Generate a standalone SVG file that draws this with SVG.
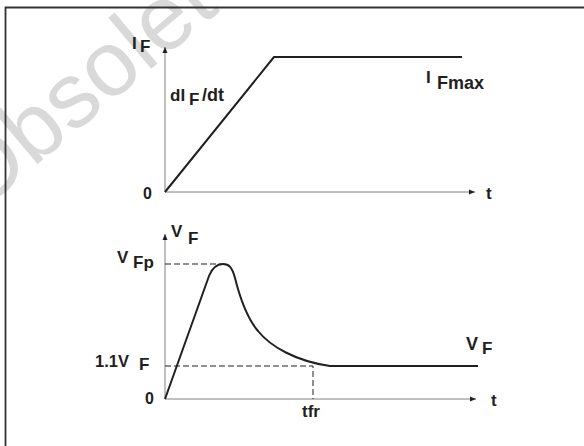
<svg xmlns="http://www.w3.org/2000/svg" width="584" height="446" viewBox="0 0 584 446">
<style>
.lbl{font-family:"Liberation Sans",Arial,sans-serif;font-weight:bold;font-size:17px;fill:#231f20}
.axis{stroke:#808080;stroke-width:1;fill:none}
.curve{stroke:#231f20;stroke-width:2;fill:none;stroke-linejoin:round}
.dash{stroke:#231f20;stroke-width:1;fill:none;stroke-dasharray:6,3}
.wm{font-family:"Liberation Sans",Arial,sans-serif;font-size:92px;fill:#d9d9d9}
</style>
<defs>
<marker id="ah" viewBox="0 0 6 6" refX="6" refY="3" markerWidth="6" markerHeight="6" markerUnits="userSpaceOnUse" orient="auto">
<path d="M0,0.5 L6,3 L0,5.5 Z" fill="#231f20"/>
</marker>
</defs>
<rect width="584" height="446" fill="#ffffff"/>
<text class="wm" transform="translate(-22,214) rotate(-40)">Obsolete</text>
<path d="M5.5,446 L5.5,7.5 L584,7.5" stroke="#333333" stroke-width="1.8" fill="none"/>
<g id="connectors">
<path class="axis" d="M165,192 L165,47" marker-end="url(#ah)"/>
<path class="axis" d="M165,192 L475,192" marker-end="url(#ah)"/>
<path class="axis" d="M165,399 L165,234" marker-end="url(#ah)"/>
<path class="axis" d="M165,399 L476,399" marker-end="url(#ah)"/>
<path class="dash" d="M165,264 L222,264"/>
<path class="dash" d="M165,366 L313,366 L313,399"/>
</g>
<g id="if-curve">
<path class="curve" d="M165,192 L274,57 L462,57"/>
</g>
<g id="vf-curve">
<path class="curve" d="M165,399 L209,276 C213,266 218,264 223,264 C229,264 232,267 235,278 C240,298 247,318 258,331 C270,346 295,361 330,366 L478,366"/>
</g>
<g id="labels-top">
<text class="lbl" x="132" y="49">I</text>
<text class="lbl" x="140" y="51.5">F</text>
<text class="lbl" x="143" y="199" style="font-size:16px">0</text>
<text class="lbl" x="486" y="199">t</text>
<text class="lbl" x="170" y="101">dI</text>
<text class="lbl" x="189" y="104.5">F</text>
<text class="lbl" x="202" y="101" style="font-size:18px">/dt</text>
<text class="lbl" x="426" y="83">I</text>
<text class="lbl" x="437" y="89" style="font-size:18px">Fmax</text>
</g>
<g id="labels-bottom">
<text class="lbl" x="171" y="237">V</text>
<text class="lbl" x="188" y="243.5">F</text>
<text class="lbl" x="117" y="263">V</text>
<text class="lbl" x="133" y="268">Fp</text>
<text class="lbl" x="95" y="367" style="font-size:16.5px">1.1V</text>
<text class="lbl" x="139" y="370">F</text>
<text class="lbl" x="145" y="404" style="font-size:16px">0</text>
<text class="lbl" x="491" y="405.5">t</text>
<text class="lbl" x="302" y="417">tfr</text>
<text class="lbl" x="466" y="350" style="font-size:18px">V</text>
<text class="lbl" x="482" y="354">F</text>
</g>
</svg>
